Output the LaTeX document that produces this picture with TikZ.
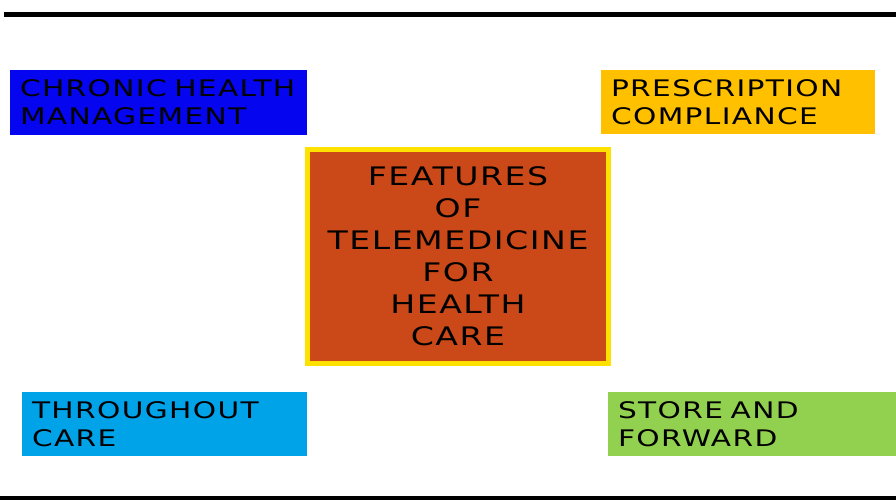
\documentclass[tikz,border=0pt]{standalone}
\usepackage{fontspec}
\setmainfont{DejaVu Sans}[FakeStretch=1.3, LetterSpace=6]
\usepackage{tikz}
\usetikzlibrary{positioning}
\definecolor{pureblue}{RGB}{5,5,240}
\definecolor{ambergold}{RGB}{255,192,0}
\definecolor{rustred}{RGB}{203,73,25}
\definecolor{lemonyellow}{RGB}{255,225,0}
\definecolor{skyblue}{RGB}{0,162,232}
\definecolor{leafgreen}{RGB}{146,208,80}

\begin{document}
\begin{tikzpicture}[x=1pt, y=-1pt,
	featbox/.style={anchor=north west, inner xsep=10pt, inner ysep=0pt, outer sep=0pt,
		minimum height=65pt, align=left,
		font=\fontsize{22.8}{28}\selectfont},
	mainbox/.style={draw=lemonyellow, line width=5pt, fill=rustred, inner sep=0pt, outer sep=0pt,
		minimum width=301pt, minimum height=214pt, align=center,
		font=\fontsize{25.5}{32}\selectfont}]

						\useasboundingbox (0,0) rectangle (896,500);

						% rules top and bottom
						\fill[black] (4,12) rectangle (896,17);
						\fill[black] (0,496) rectangle (896,500);

						\coordinate (c) at (458,256.5);
						\node[mainbox] (telemed) at (c) {FEATURES\\OF\\TELEMEDICINE\\FOR\\HEALTH\\CARE};

						\node[featbox, fill=pureblue, text width=277pt] (chronic) at (10,70) {CHRONIC HEALTH\\MANAGEMENT};
						\node[featbox, fill=ambergold, text width=254pt, minimum height=64pt] (prescr) at (601,70) {PRESCRIPTION\\COMPLIANCE};
						\node[featbox, fill=skyblue, text width=265pt, minimum height=64pt] (through) at (22,392) {THROUGHOUT\\CARE};
						\node[featbox, fill=leafgreen, text width=268pt, minimum height=64pt] (store) at (608,392) {STORE AND\\FORWARD};
					\end{tikzpicture}
\end{document}
